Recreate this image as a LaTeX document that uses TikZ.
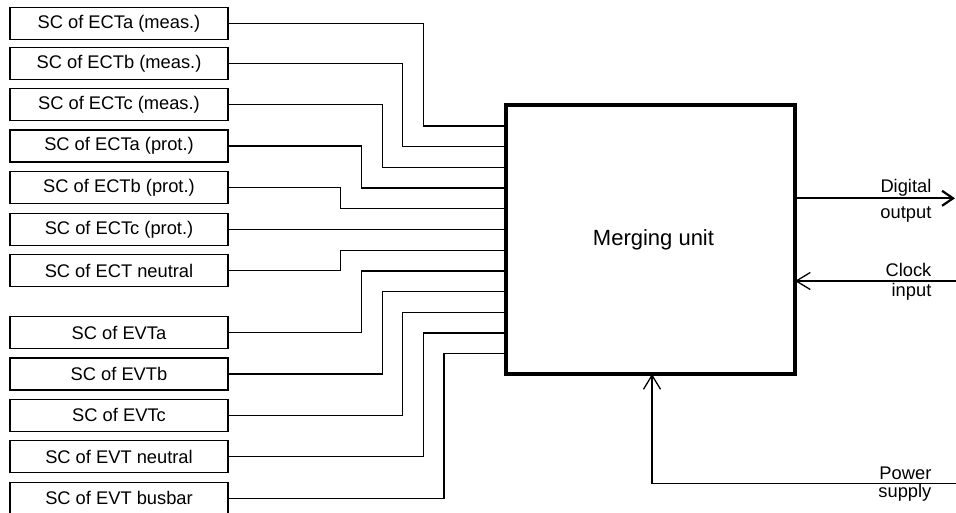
\documentclass[tikz,border=0pt]{standalone}
\usepackage{fontspec}
\setmainfont{Liberation Sans}
\usetikzlibrary{arrows.meta}

\begin{document}
\begin{tikzpicture}[x = 1pt,
                    y = -1pt,
                    line width = 1.3pt,
                    color = {black}]
% style of boxes and labels
\tikzset{scbox/.style={draw=black,line width=1.3pt,minimum width=218pt,minimum height=32pt,inner sep=0pt,outer sep=0pt,font=\fontsize{18.3}{22}\selectfont},
         labtext/.style={inner sep=0pt,anchor=base east,font=\fontsize{18.3}{22}\selectfont},
         barb/.style={-{Straight Barb[length=14pt,width=17pt]}}}
\useasboundingbox (0,0) rectangle (956,512);

%sensor boxes
\node[scbox] (sc1) at (119,23.3) {SC of ECTa (meas.)};
\node[scbox] (sc2) at (119,63.8) {SC of ECTb (meas.)};
\node[scbox] (sc3) at (119,104.6) {SC of ECTc (meas.)};
\node[scbox] (sc4) at (119,145.9) {SC of ECTa (prot.)};
\node[scbox] (sc5) at (119,187.3) {SC of ECTb (prot.)};
\node[scbox] (sc6) at (119,229.3) {SC of ECTc (prot.)};
\node[scbox] (sc7) at (119,270.7) {SC of ECT neutral};
\node[scbox] (sc8) at (119,332.7) {SC of EVTa};
\node[scbox] (sc9) at (119,374) {SC of EVTb};
\node[scbox] (sc10) at (119,415.3) {SC of EVTc};
\node[scbox] (sc11) at (119,456.7) {SC of EVT neutral};
\node[scbox] (sc12) at (119,498.3) {SC of EVT busbar};

%merging unit
\node[draw=black,line width=4.3pt,minimum width=289pt,minimum height=269pt,inner sep=0pt,outer sep=0pt,
      font=\fontsize{22}{26}\selectfont] (mu) at (650.5,239.5) {\hspace*{6pt}Merging unit};

%bends
\coordinate (j1) at (423.3,126);
\coordinate (j2) at (402.7,146.7);
\coordinate (j3) at (382.3,167.4);
\coordinate (j4) at (361.7,188.1);
\coordinate (j5) at (340.7,208.8);
%sc6 goes straight
\coordinate (j7) at (340.7,250.2);
\coordinate (j8) at (361.7,270.9);
\coordinate (j9) at (382.3,291.6);
\coordinate (j10) at (402.7,312.3);
\coordinate (j11) at (423.3,333);
\coordinate (j12) at (444,353.7);

%inputs
\draw (sc1.east) -| (j1) -- (j1 -| mu.west);
\draw (sc2.east) -| (j2) -- (j2 -| mu.west);
\draw (sc3.east) -| (j3) -- (j3 -| mu.west);
\draw (sc4.east) -| (j4) -- (j4 -| mu.west);
\draw (sc5.east) -| (j5) -- (j5 -| mu.west);
\draw (sc6.east) -- (sc6.east -| mu.west);
\draw (sc7.east) -| (j7) -- (j7 -| mu.west);
\draw (sc8.east) -| (j8) -- (j8 -| mu.west);
\draw (sc9.east) -| (j9) -- (j9 -| mu.west);
\draw (sc10.east) -| (j10) -- (j10 -| mu.west);
\draw (sc11.east) -| (j11) -- (j11 -| mu.west);
\draw (sc12.east) -| (j12) -- (j12 -| mu.west);

%outputs
\coordinate (dout) at (955,198.3);
\coordinate (cin) at (956,281);
\coordinate (pwr) at (956,483.3);
\coordinate (pbend) at (652,483.3);
\draw[-{Straight Barb[length=11pt,width=15pt]}, line width=2.2pt] (mu.east |- dout) -- (dout);
\draw[barb] (cin) -- (cin -| mu.east);
\draw[barb] (pwr) -- (pbend) -- (pbend |- mu.south);

%labels
\node[labtext] (dlab) at (932,192) {Digital};
\node[labtext] (olab) at (932,218.5) {output};
\node[labtext] (clab) at (932,276.5) {Clock};
\node[labtext] (ilab) at (932,296.5) {input};
\node[labtext] (plab) at (932,479) {Power};
\node[labtext] (slab) at (932,497.5) {supply};
\end{tikzpicture}
\end{document}
